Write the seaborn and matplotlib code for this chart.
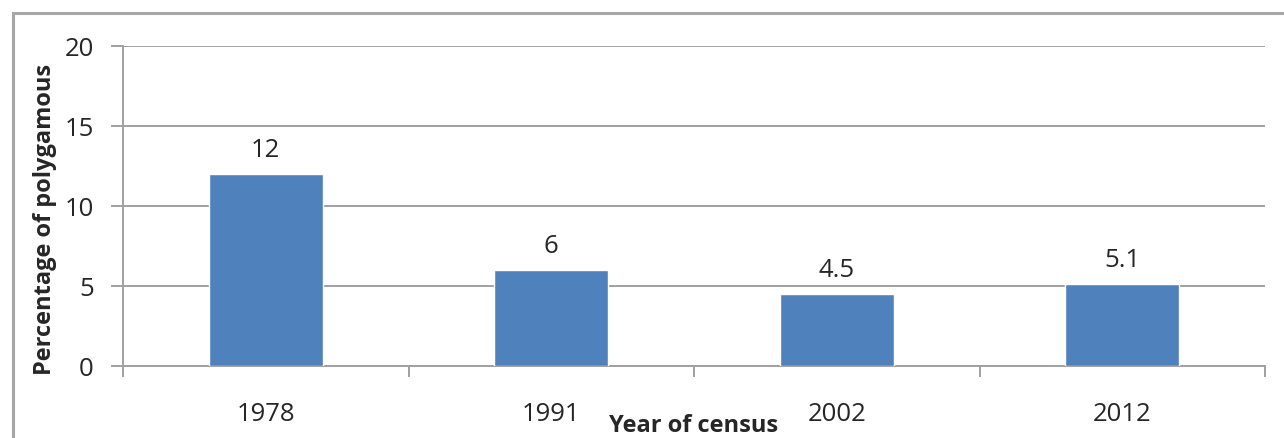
import matplotlib
matplotlib.use("Agg")
import matplotlib.pyplot as plt
import seaborn as sns
import pandas as pd
from matplotlib.patches import Rectangle

years = ["1978", "1991", "2002", "2012"]
percent = [12, 6, 4.5, 5.1]
value_labels = ["12", "6", "4.5", "5.1"]

df = pd.DataFrame({"year": years, "pct": percent})

sns.set_style("white")
plt.rcParams["font.family"] = ["Open Sans", "DejaVu Sans"]

W, H = 1284, 439
fig = plt.figure(figsize=(W / 100, H / 100), dpi=100)
ax = fig.add_axes([123 / W, 1 - 367 / H, (1265 - 123) / W, (367 - 47) / H])

# outer chart frame (cropped at right and bottom)
fig.patches.append(Rectangle((13 / W, -0.1), 1.2, 1 - 14 / H + 0.1,
                             transform=fig.transFigure, fill=False,
                             edgecolor="#a6a6a6", linewidth=2.2))

sns.barplot(data=df, x="year", y="pct", color="#4f81bd", width=0.4,
            saturation=1, ax=ax, zorder=3)

ax.set_ylim(0, 20)
ax.set_xlim(-0.5, 3.5)
ax.set_yticks([0, 5, 10, 15, 20])
ax.yaxis.grid(True, color="#a0a0a0", linewidth=1.4, zorder=0)
ax.set_axisbelow(True)

for s in ["top", "right"]:
    ax.spines[s].set_visible(False)
for s in ["left", "bottom"]:
    ax.spines[s].set_color("#a0a0a0")
    ax.spines[s].set_linewidth(1.4)

fs = 18.5
ax.tick_params(axis="y", which="major", length=9, color="#a0a0a0", width=1.4,
               labelsize=fs, pad=12, left=True)
ax.set_xticks([0, 1, 2, 3])
ax.set_xticklabels(years)
ax.set_xticks([-0.5, 0.5, 1.5, 2.5, 3.5], minor=True)
ax.tick_params(axis="x", which="major", length=0, labelsize=fs, pad=25)
ax.tick_params(axis="x", which="minor", length=8, color="#a0a0a0", width=1.4,
               bottom=True)

for i, (v, t) in enumerate(zip(percent, value_labels)):
    ax.annotate(t, (i, v), xytext=(0, 13), textcoords="offset points",
                ha="center", va="baseline", fontsize=fs)

ax.set_xlabel("Year of census", fontsize=17, fontweight="bold")
ax.xaxis.set_label_coords(694 / W, 1 / H, transform=fig.transFigure)
ax.xaxis.label.set_va("bottom")
ax.set_ylabel("Percentage of polygamous", fontsize=17, fontweight="bold")
ax.yaxis.set_label_coords(-0.058, 0.46)

fig.savefig("out.png", dpi=100)
